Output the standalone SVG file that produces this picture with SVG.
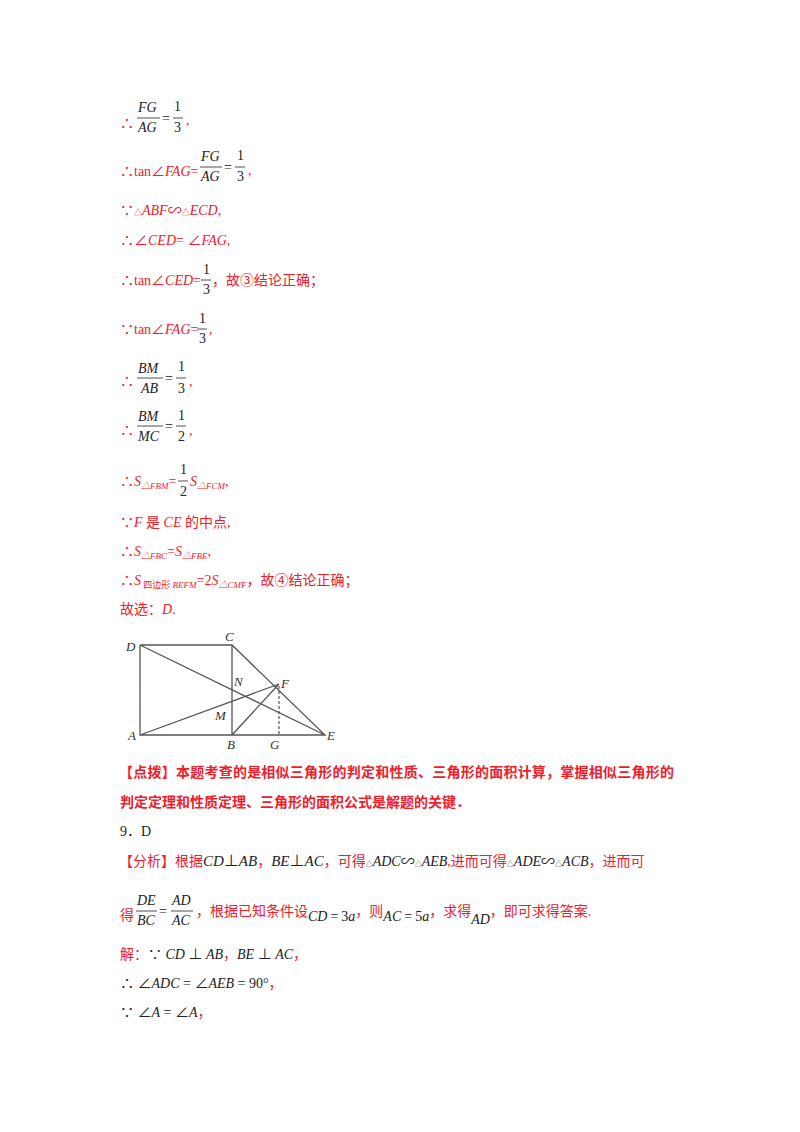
<svg xmlns="http://www.w3.org/2000/svg" width="800" height="1132" viewBox="0 0 800 1132">
<style>
text{font-family:"Liberation Serif","Noto Sans CJK SC",serif;font-size:14px}
.r{fill:#f0202a}.k{fill:#222}
.i{font-style:italic}
.s{font-size:9px}
.b{font-weight:bold}
.fl{stroke:#222;stroke-width:0.8}
.g{stroke:#555;stroke-width:1.3;fill:none}
.lb{font-style:italic;font-size:13px;fill:#333}
</style>
<rect width="800" height="1132" fill="#fff"/>
<g id="text">
<text x="120" y="128" class="r">∴</text>
<text x="138" y="112" class="k i">FG</text><line x1="137" y1="118" x2="160" y2="118" class="fl"/><text x="138" y="132" class="k i">AG</text>
<text x="162" y="123" class="k">=</text><text x="174" y="111" class="k">1</text><line x1="173" y1="118" x2="183" y2="118" class="fl"/><text x="174" y="132" class="k">3</text><text x="186" y="125" class="r">,</text>

<text x="120" y="176" class="r">∴tan∠<tspan class="i">FAG</tspan>=</text>
<text x="201" y="161" class="k i">FG</text><line x1="200" y1="167" x2="222" y2="167" class="fl"/><text x="201" y="181" class="k i">AG</text>
<text x="224" y="172" class="k">=</text><text x="237" y="160" class="k">1</text><line x1="235" y1="167" x2="245" y2="167" class="fl"/><text x="237" y="181" class="k">3</text><text x="248" y="175" class="r">,</text>

<text x="120" y="215" class="r">∵<tspan font-size="8">△</tspan><tspan class="i">ABF</tspan>∽<tspan font-size="8">△</tspan><tspan class="i">ECD</tspan>,</text>
<text x="120" y="245" class="r">∴∠<tspan class="i">CED</tspan>= ∠<tspan class="i">FAG</tspan>,</text>

<text x="120" y="285" class="r">∴tan∠<tspan class="i">CED</tspan>=</text>
<text x="203" y="274" class="k">1</text><line x1="201" y1="280" x2="211" y2="280" class="fl"/><text x="203" y="294" class="k">3</text>
<text x="212" y="285" class="r">，故③结论正确；</text>

<text x="120" y="334" class="r">∵tan∠<tspan class="i">FAG</tspan>=</text>
<text x="199" y="323" class="k">1</text><line x1="197" y1="329" x2="207" y2="329" class="fl"/><text x="199" y="343" class="k">3</text><text x="209" y="334" class="r">,</text>

<text x="120" y="386" class="r">∴</text>
<text x="138" y="373" class="k i">BM</text><line x1="137" y1="378" x2="163" y2="378" class="fl"/><text x="141" y="393" class="k i">AB</text>
<text x="165" y="383" class="k">=</text><text x="178" y="371" class="k">1</text><line x1="176" y1="378" x2="186" y2="378" class="fl"/><text x="178" y="393" class="k">3</text><text x="189" y="386" class="r">,</text>

<text x="120" y="435" class="r">∴</text>
<text x="138" y="421" class="k i">BM</text><line x1="137" y1="426" x2="163" y2="426" class="fl"/><text x="138" y="441" class="k i">MC</text>
<text x="165" y="431" class="k">=</text><text x="178" y="420" class="k">1</text><line x1="176" y1="426" x2="186" y2="426" class="fl"/><text x="178" y="441" class="k">2</text><text x="189" y="435" class="r">,</text>

<text x="120" y="486" class="r">∴<tspan class="i">S</tspan><tspan class="s i" dy="3">△FBM</tspan><tspan dy="-3">=</tspan></text>
<text x="180" y="474" class="k">1</text><line x1="178" y1="481" x2="188" y2="481" class="fl"/><text x="180" y="496" class="k">2</text>
<text x="190" y="486" class="r"><tspan class="i">S</tspan><tspan class="s i" dy="3">△FCM</tspan><tspan dy="-3">,</tspan></text>

<text x="120" y="527" class="r">∵<tspan class="i">F</tspan> 是 <tspan class="i">CE</tspan> 的中点,</text>
<text x="120" y="556" class="r">∴<tspan class="i">S</tspan><tspan class="s i" dy="3">△FBC</tspan><tspan dy="-3">=</tspan><tspan class="i">S</tspan><tspan class="s i" dy="3">△FBE</tspan><tspan dy="-3">,</tspan></text>
<text x="120" y="585" class="r">∴<tspan class="i">S</tspan><tspan class="s" dy="3"> 四边形 <tspan class="i">BEFM</tspan></tspan><tspan dy="-3">=2</tspan><tspan class="i">S</tspan><tspan class="s i" dy="3">△CMF</tspan><tspan dy="-3">，故④结论正确；</tspan></text>
<text x="120" y="614" class="r">故选：<tspan class="i">D</tspan>.</text>
</g>
<g id="figure">
<path class="g" d="M140,645H232V735M140,645V735H325L232,645M140,645L325,735M140,735L279,684M232,735L279,684"/>
<line x1="279" y1="686" x2="279" y2="735" stroke="#555" stroke-width="1.2" stroke-dasharray="3,2"/>
<text x="126" y="651" class="lb">D</text><text x="225" y="641" class="lb">C</text><text x="234" y="686" class="lb">N</text>
<text x="281" y="688" class="lb">F</text><text x="215" y="720" class="lb">M</text><text x="128" y="740" class="lb">A</text>
<text x="227" y="749" class="lb">B</text><text x="270" y="749" class="lb">G</text><text x="327" y="740" class="lb">E</text>
</g>
<g id="text2">
<text x="119" y="777" class="r b" textLength="555" font-size="13.5">【点拨】本题考查的是相似三角形的判定和性质、三角形的面积计算，掌握相似三角形的</text>
<text x="120" y="807" class="r b" font-size="13.5">判定定理和性质定理、三角形的面积公式是解题的关键．</text>
<text x="120" y="836" class="k">9．D</text>
</g>
<g id="analysis">
<text x="119" y="866" class="r" font-size="13.5"><tspan>【分析】根据</tspan><tspan class="k i" font-size="15">CD</tspan><tspan class="k" font-size="15">⊥</tspan><tspan class="k i" font-size="15">AB</tspan><tspan>，</tspan><tspan class="k i" font-size="15">BE</tspan><tspan class="k" font-size="15">⊥</tspan><tspan class="k i" font-size="15">AC</tspan><tspan>，可得</tspan><tspan class="k" font-size="7">△</tspan><tspan class="k i">ADC</tspan><tspan class="k">∽</tspan><tspan class="k" font-size="7">△</tspan><tspan class="k i">AEB</tspan><tspan>,进而可得</tspan><tspan class="k" font-size="7">△</tspan><tspan class="k i">ADE</tspan><tspan class="k">∽</tspan><tspan class="k" font-size="7">△</tspan><tspan class="k i">ACB</tspan><tspan>，进而可</tspan></text>
<text x="120" y="920" class="r" font-size="13.5">得</text>
<text x="137" y="905" class="k i">DE</text><line x1="136" y1="911" x2="157" y2="911" class="fl"/><text x="137" y="925" class="k i">BC</text>
<text x="159" y="916" class="k">=</text>
<text x="172" y="905" class="k i">AD</text><line x1="171" y1="911" x2="193" y2="911" class="fl"/><text x="172" y="925" class="k i">AC</text>
<text x="196" y="916" class="r" font-size="13.5">，根据已知条件设<tspan class="k i" dy="5">CD</tspan><tspan class="k" dx="3">=</tspan><tspan class="k" dx="3">3<tspan class="i">a</tspan></tspan><tspan dy="-5">，则</tspan><tspan class="k i" dy="5">AC</tspan><tspan class="k" dx="3">=</tspan><tspan class="k" dx="3">5<tspan class="i">a</tspan></tspan><tspan dy="-5">，求得</tspan><tspan class="k i" dy="8">AD</tspan><tspan dy="-8">，即可求得答案.</tspan></text>
<text x="120" y="959" class="r" font-size="13.5">解：<tspan class="k">∵ </tspan><tspan class="k i">CD</tspan><tspan class="k"> ⊥ </tspan><tspan class="k i">AB</tspan>，<tspan class="k i">BE</tspan><tspan class="k"> ⊥ </tspan><tspan class="k i">AC</tspan>，</text>
<text x="120" y="988" class="k">∴ ∠<tspan class="i">ADC</tspan> = ∠<tspan class="i">AEB</tspan> = 90°<tspan class="r">，</tspan></text>
<text x="120" y="1017" class="k">∵ ∠<tspan class="i">A</tspan> = ∠<tspan class="i">A</tspan><tspan class="r">，</tspan></text>
</g>
</svg>
